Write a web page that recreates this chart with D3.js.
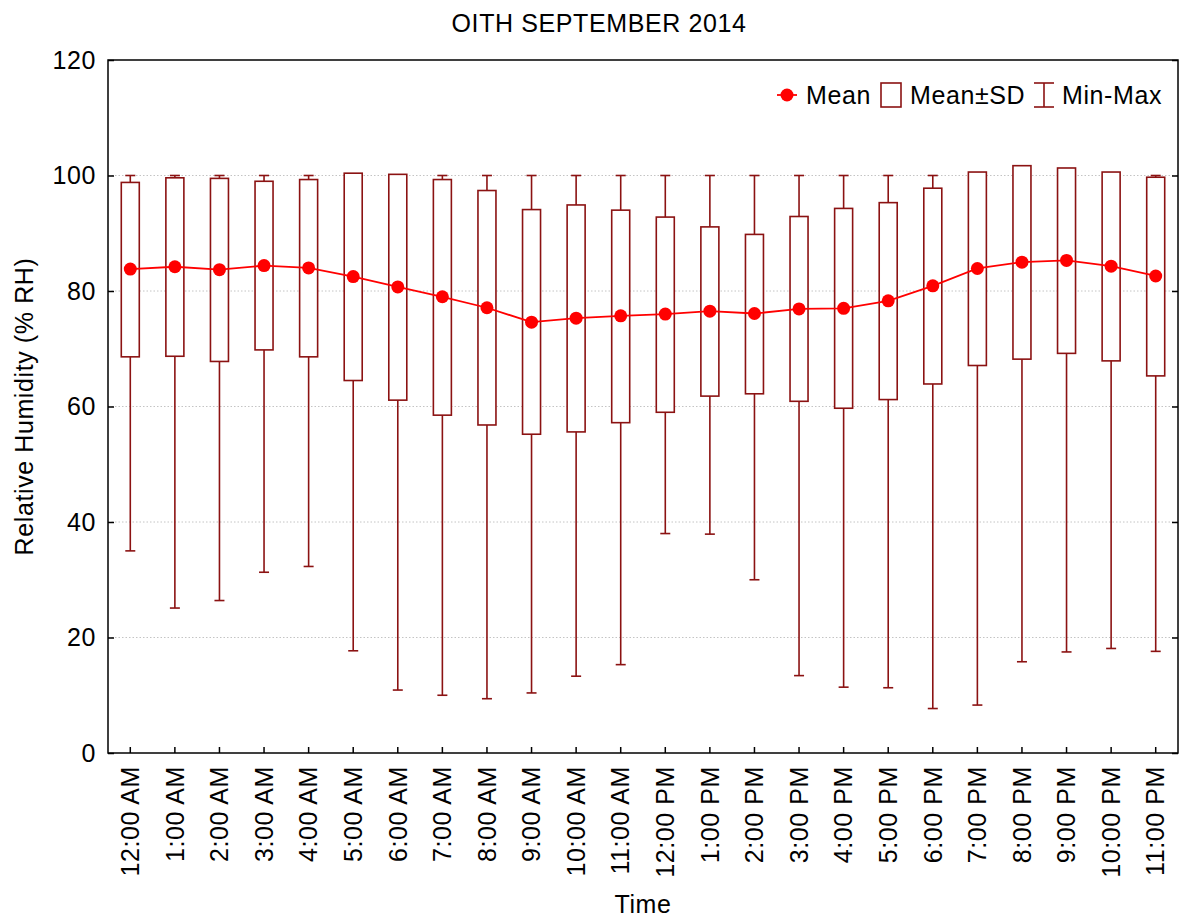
<!DOCTYPE html>
<html>
<head>
<meta charset="utf-8">
<script src="https://cdn.jsdelivr.net/npm/d3@7"></script>
<style>
  body { margin: 0; background: #fff; }
  svg text { font-family: "Liberation Sans", Arial, sans-serif; fill: #000; letter-spacing: 0.6px; }
</style>
</head>
<body>
<div id="chart"></div>
<script>
// hours of the day
const times = ["12:00 AM", "1:00 AM", "2:00 AM", "3:00 AM", "4:00 AM", "5:00 AM", "6:00 AM", "7:00 AM",
  "8:00 AM", "9:00 AM", "10:00 AM", "11:00 AM", "12:00 PM", "1:00 PM", "2:00 PM", "3:00 PM",
  "4:00 PM", "5:00 PM", "6:00 PM", "7:00 PM", "8:00 PM", "9:00 PM", "10:00 PM", "11:00 PM"];

// relative humidity stats (% RH)
const means = [83.8, 84.2, 83.7, 84.4, 84.0, 82.5, 80.7, 79.0, 77.1, 74.6, 75.3, 75.7,
  76.0, 76.5, 76.1, 76.9, 77.0, 78.3, 80.9, 83.9, 85.0, 85.3, 84.3, 82.6];
const sdLow = [68.6, 68.7, 67.8, 69.8, 68.6, 64.5, 61.1, 58.5, 56.8, 55.2, 55.6, 57.2,
  59.0, 61.8, 62.2, 60.9, 59.7, 61.2, 63.9, 67.1, 68.2, 69.2, 67.9, 65.3];
const sdHigh = [98.8, 99.6, 99.5, 99.0, 99.3, 100.4, 100.2, 99.3, 97.4, 94.1, 94.9, 94.0,
  92.8, 91.1, 89.8, 92.9, 94.3, 95.3, 97.8, 100.6, 101.7, 101.3, 100.6, 99.7];
const mins = [35.0, 25.1, 26.4, 31.3, 32.3, 17.7, 10.9, 10.0, 9.4, 10.4, 13.3, 15.3,
  38.0, 37.9, 30.0, 13.4, 11.4, 11.3, 7.7, 8.3, 15.8, 17.5, 18.1, 17.6];
const maxs = [100, 100, 100, 100, 100, 100, 100, 100, 100, 100, 100, 100,
  100, 100, 100, 100, 100, 100, 100, 100, 100, 100, 100, 100];

const yTicks = [0, 20, 40, 60, 80, 100, 120];

const width = 1179, height = 918;
const margin = {top: 60, right: 1, bottom: 165, left: 108};
const boxColor = "#8b1212";
const meanColor = "#ff0000";
const fontSize = 25;

const data = times.map((t, i) => ({
  time: t, mean: means[i], lo: sdLow[i], hi: sdHigh[i], min: mins[i], max: maxs[i]
}));

const svg = d3.select("#chart").append("svg")
  .attr("width", width)
  .attr("height", height);

const x = d3.scaleBand()
  .domain(times)
  .range([margin.left, width - margin.right])
  .padding(0);

const y = d3.scaleLinear()
  .domain([0, 120])
  .range([height - margin.bottom, margin.top]);

const cx = d => x(d.time) + x.bandwidth() / 2;

// grid lines
svg.append("g")
  .selectAll("line")
  .data(yTicks.filter(v => v > 0 && v < 120))
  .join("line")
  .attr("x1", margin.left).attr("x2", width - margin.right)
  .attr("y1", d => y(d)).attr("y2", d => y(d))
  .attr("stroke", "#c4c4c4")
  .attr("stroke-width", 1)
  .attr("stroke-dasharray", "1.5,2");

// axes (ticks pointing inwards)
const yAxisL = svg.append("g")
  .attr("transform", `translate(${margin.left},0)`)
  .call(d3.axisLeft(y).tickValues(yTicks).tickSizeInner(-6).tickSizeOuter(0).tickPadding(12));
const yAxisR = svg.append("g")
  .attr("transform", `translate(${width - margin.right},0)`)
  .call(d3.axisRight(y).tickValues(yTicks).tickSizeInner(-6).tickSizeOuter(0).tickFormat(""));
const xAxis = svg.append("g")
  .attr("transform", `translate(0,${y(0)})`)
  .call(d3.axisBottom(x).tickSizeInner(-6).tickSizeOuter(0).tickPadding(0));

[yAxisL, yAxisR, xAxis].forEach(g => {
  g.select(".domain").remove();
  g.selectAll(".tick line").attr("stroke", "#000").attr("stroke-width", 1.5);
  g.selectAll("text").style("font-size", fontSize + "px").attr("fill", "#000");
});

xAxis.selectAll(".tick text")
  .attr("transform", "rotate(-90)")
  .attr("text-anchor", "end")
  .attr("x", -13)
  .attr("y", 0)
  .attr("dy", "0.35em");

// whiskers (min-max), drawn under the boxes
const groups = svg.append("g").selectAll("g")
  .data(data)
  .join("g");

groups.append("line")
  .attr("x1", cx).attr("x2", cx)
  .attr("y1", d => y(d.min)).attr("y2", d => y(d.max))
  .attr("stroke", boxColor).attr("stroke-width", 1.6);

groups.selectAll(".cap")
  .data(d => [d.min, d.max].map(v => ({v, c: cx(d)})))
  .join("line")
  .attr("class", "cap")
  .attr("x1", d => d.c - 5).attr("x2", d => d.c + 5)
  .attr("y1", d => y(d.v)).attr("y2", d => y(d.v))
  .attr("stroke", boxColor).attr("stroke-width", 1.6);

// mean ± SD boxes
const boxW = 18;
groups.append("rect")
  .attr("x", d => cx(d) - boxW / 2)
  .attr("width", boxW)
  .attr("y", d => y(d.hi))
  .attr("height", d => y(d.lo) - y(d.hi))
  .attr("fill", "#fff")
  .attr("stroke", boxColor)
  .attr("stroke-width", 1.6);

// mean line and dots
svg.append("path")
  .datum(data)
  .attr("fill", "none")
  .attr("stroke", meanColor)
  .attr("stroke-width", 1.8)
  .attr("d", d3.line().x(cx).y(d => y(d.mean)));

svg.append("g").selectAll("circle")
  .data(data)
  .join("circle")
  .attr("cx", cx)
  .attr("cy", d => y(d.mean))
  .attr("r", 6.5)
  .attr("fill", meanColor);

// frame
svg.append("rect")
  .attr("x", margin.left).attr("y", margin.top)
  .attr("width", width - margin.right - margin.left)
  .attr("height", y(0) - margin.top)
  .attr("fill", "none")
  .attr("stroke", "#000")
  .attr("stroke-width", 1.5);

// title and axis labels
svg.append("text")
  .attr("x", 599).attr("y", 32)
  .attr("text-anchor", "middle")
  .style("font-size", "25px")
  .text("OITH SEPTEMBER 2014");

svg.append("text")
  .attr("x", (margin.left + width - margin.right) / 2).attr("y", 913)
  .attr("text-anchor", "middle")
  .style("font-size", fontSize + "px")
  .text("Time");

svg.append("text")
  .attr("transform", `translate(33,${(y(0) + y(120)) / 2}) rotate(-90)`)
  .attr("text-anchor", "middle")
  .style("font-size", fontSize + "px")
  .text("Relative Humidity (% RH)");

// legend
const legend = svg.append("g").attr("transform", "translate(777,95)");
const lg1 = legend.append("g");
lg1.append("line").attr("x1", 0).attr("x2", 20).attr("y1", 0).attr("y2", 0)
  .attr("stroke", meanColor).attr("stroke-width", 1.8);
lg1.append("circle").attr("cx", 10).attr("cy", 0).attr("r", 6.5).attr("fill", meanColor);
lg1.append("text").attr("x", 29).attr("y", 0).attr("dy", "0.36em")
  .style("font-size", fontSize + "px").text("Mean");

const lg2 = legend.append("g").attr("transform", "translate(104,0)");
lg2.append("rect").attr("x", 0).attr("y", -12).attr("width", 20).attr("height", 24)
  .attr("fill", "#fff").attr("stroke", boxColor).attr("stroke-width", 1.6);
lg2.append("text").attr("x", 29).attr("y", 0).attr("dy", "0.36em")
  .style("font-size", fontSize + "px").text("Mean±SD");

const lg3 = legend.append("g").attr("transform", "translate(257,0)");
lg3.append("line").attr("x1", 10).attr("x2", 10).attr("y1", -12).attr("y2", 12)
  .attr("stroke", boxColor).attr("stroke-width", 1.6);
[-12, 12].forEach(v => lg3.append("line").attr("x1", 0).attr("x2", 20).attr("y1", v).attr("y2", v)
  .attr("stroke", boxColor).attr("stroke-width", 1.6));
lg3.append("text").attr("x", 28).attr("y", 0).attr("dy", "0.36em")
  .style("font-size", fontSize + "px").text("Min-Max");
</script>
</body>
</html>
